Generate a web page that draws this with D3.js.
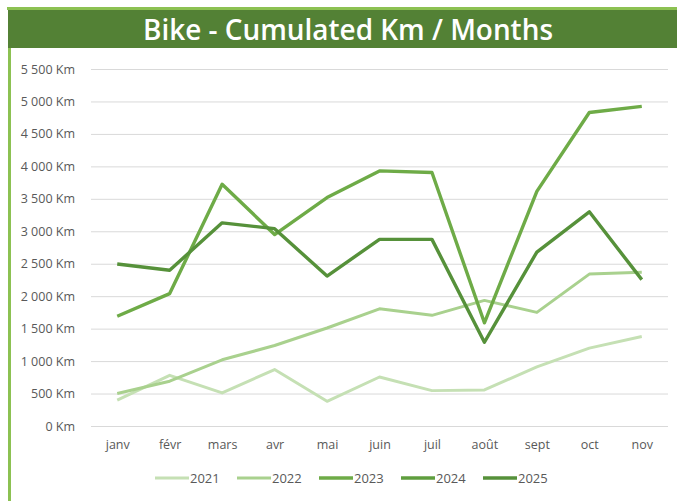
<!DOCTYPE html>
<html>
<head>
<meta charset="utf-8">
<script src="https://cdn.jsdelivr.net/npm/d3@7"></script>
<style>
  body { margin: 0; background: #fff; }
  svg { display: block; font-family: "Open Sans", sans-serif; }
</style>
</head>
<body>
<div id="chart"></div>
<script>
// data
const months = ["janv", "févr", "mars", "avr", "mai", "juin", "juil", "août", "sept", "oct", "nov"];
const years = ["2021", "2022", "2023", "2024", "2025"];
const km2021 = [400, 780, 510, 870, 380, 755, 545, 555, 910, 1200, 1380];
const km2022 = [500, 690, 1020, 1240, 1510, 1805, 1705, 1935, 1750, 2340, 2370];
const km2023 = [1690, 2040, 3725, 2950, 3520, 3930, 3905, 1590, 3615, 4830, 4925];
const km2024 = [null, null, null, null, null, null, null, null, null, null, null];
const km2025 = [2495, 2400, 3130, 3040, 2310, 2875, 2875, 1290, 2680, 3300, 2255];
const yTicks = [0, 500, 1000, 1500, 2000, 2500, 3000, 3500, 4000, 4500, 5000, 5500];

const seriesValues = [km2021, km2022, km2023, km2024, km2025];
const colors = ["#c5e0b4", "#a9d18e", "#6eab47", "#5f9e3e", "#56913a"];
const widths = [3, 3, 3.4, 3.4, 3.4];

let width = 677;
let height = 501;

let svg = d3.select("#chart")
  .append("svg")
  .attr("width", width)
  .attr("height", height);

// frame + title bar
svg.append("rect")
  .attr("x", 7).attr("y", 7)
  .attr("width", width - 7).attr("height", 3)
  .attr("fill", "#8cc152");
svg.append("rect")
  .attr("x", 8).attr("y", 7)
  .attr("width", 3).attr("height", height - 7)
  .attr("fill", "#8cc152");
svg.append("rect")
  .attr("x", 8).attr("y", 10)
  .attr("width", width - 8).attr("height", 38)
  .attr("fill", "#538135");
svg.append("text")
  .attr("x", 348).attr("y", 40)
  .attr("text-anchor", "middle")
  .attr("font-size", 28)
  .attr("font-weight", 600)
  .attr("textLength", 410)
  .attr("lengthAdjust", "spacingAndGlyphs")
  .attr("fill", "#fff")
  .text("Bike - Cumulated Km / Months");

let x = d3.scalePoint()
  .domain(months)
  .range([91, 668])
  .padding(0.5);

let y = d3.scaleLinear()
  .domain([0, 5500])
  .range([426, 69]);

let fmt = d => d3.format(",")(d).replace(/,/g, " ") + " Km";

// gridlines + y labels
let yAxis = svg.append("g")
  .attr("transform", "translate(91,0)")
  .call(d3.axisLeft(y).tickValues(yTicks).tickSize(-577).tickPadding(16).tickFormat(fmt));
yAxis.select(".domain").remove();
yAxis.selectAll(".tick line").attr("stroke", "#d9d9d9").attr("stroke-width", 1);
yAxis.selectAll(".tick text")
  .attr("fill", "#595959")
  .attr("font-size", 12.5)
  .attr("font-family", "Open Sans, sans-serif");

// x labels
let xAxis = svg.append("g")
  .attr("transform", "translate(0,426)")
  .call(d3.axisBottom(x).tickSize(0).tickPadding(14));
xAxis.select(".domain").remove();
xAxis.selectAll(".tick text")
  .attr("fill", "#595959")
  .attr("font-size", 12.5)
  .attr("font-family", "Open Sans, sans-serif");

let line = d3.line()
  .defined(d => d != null)
  .x((d, i) => x(months[i]))
  .y(d => y(d));

seriesValues.forEach(function (vals, i) {
  svg.append("path")
    .datum(vals)
    .attr("fill", "none")
    .attr("stroke", colors[i])
    .attr("stroke-width", widths[i])
    .attr("stroke-linejoin", "round")
    .attr("d", line);
});

// legend
let legend = svg.append("g")
  .attr("transform", "translate(155,478)");
years.forEach(function (yr, i) {
  let g = legend.append("g").attr("transform", "translate(" + (i * 82) + ",0)");
  g.append("line")
    .attr("x1", 0).attr("x2", 34)
    .attr("stroke", colors[i])
    .attr("stroke-width", widths[i]);
  g.append("text")
    .attr("x", 35).attr("dy", "0.35em")
    .attr("font-size", 13)
    .attr("fill", "#595959")
    .text(yr);
});
</script>
</body>
</html>
